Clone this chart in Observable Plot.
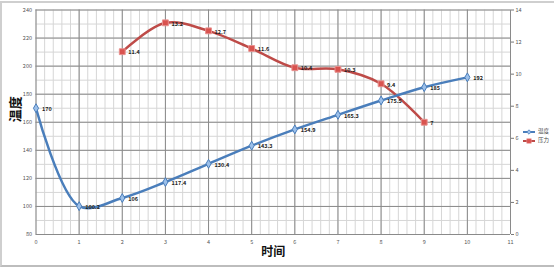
<!DOCTYPE html>
<html>
<head>
<meta charset="utf-8">
<script src="https://cdn.jsdelivr.net/npm/d3@7"></script>
<script src="https://cdn.jsdelivr.net/npm/@observablehq/plot@0.6"></script>
<style>
  html, body { margin: 0; padding: 0; background: #fff; }
  #wrap { position: relative; width: 554px; height: 270px; overflow: hidden; font-family: "Noto Sans CJK SC", "DejaVu Sans", sans-serif; }
  #frame { position: absolute; left: 0px; top: 1px; width: 560px; height: 266px; border-left: 2px solid #cfcfcf; border-top: 2px solid #cfcfcf; border-bottom: 2px solid #bdbdbd; box-sizing: border-box; pointer-events: none; }
  #legend { position: absolute; left: 523px; top: 127px; font-size: 5.5px; color: #444; line-height: 9px; }
  #legend div { display: flex; align-items: center; height: 9px; }
  #legend svg { margin-right: 2px; }
</style>
</head>
<body>
<div id="wrap">
  <div id="chart"></div>
  <div id="frame"></div>
  <div id="legend"></div>
</div>
<script>
// ---- data ----
const timeX = [0, 1, 2, 3, 4, 5, 6, 7, 8, 9, 10];
const tempValues = [170, 100.2, 106, 117.4, 130.4, 143.3, 154.9, 165.3, 175.5, 185, 192];
const pressX = [2, 3, 4, 5, 6, 7, 8, 9];
const pressValues = [11.4, 13.2, 12.7, 11.6, 10.4, 10.3, 9.4, 7];
const leftTicks = [80, 100, 120, 140, 160, 180, 200, 220, 240];
const rightTicks = [0, 2, 4, 6, 8, 10, 12, 14];
const xTicks = [0, 1, 2, 3, 4, 5, 6, 7, 8, 9, 10, 11];
const seriesNames = ["温度", "压力"];
const xTitle = "时间";
const yTitle = "温度";

const blue = "#4a7ebb";
const red = "#be4b48";

// right axis (0..14) mapped onto left scale (80..240)
const toLeft = v => 80 + v * 160 / 14;

const temp = timeX.map((x, i) => ({x, y: tempValues[i], label: String(tempValues[i])}));
const press = pressX.map((x, i) => ({x, y: toLeft(pressValues[i]), label: String(pressValues[i])}));

const minorX = d3.range(0, 11.0001, 0.2).map(v => +v.toFixed(2));
const minorY = d3.range(80, 240.001, 10);

const font = '"Noto Sans CJK SC", "DejaVu Sans", sans-serif';

const chart = Plot.plot({
  width: 554,
  height: 270,
  marginLeft: 35.5,
  marginRight: 44,
  marginTop: 9.5,
  marginBottom: 36,
  style: {fontFamily: font, background: "transparent", overflow: "visible"},
  x: {domain: [0, 11]},
  y: {domain: [80, 240]},
  marks: [
    Plot.ruleX(minorX, {stroke: "#d6d6d6", strokeWidth: 1}),
    Plot.ruleY(minorY, {stroke: "#d6d6d6", strokeWidth: 1}),
    Plot.ruleX(xTicks, {stroke: "#8a8a8a", strokeWidth: 1}),
    Plot.ruleY(leftTicks, {stroke: "#8a8a8a", strokeWidth: 1}),
    Plot.axisY({ticks: leftTicks, tickSize: 0, tickPadding: 4, fontSize: 5.5, fill: "#555", label: null}),
    Plot.axisX({ticks: xTicks, tickSize: 0, tickPadding: 6, fontSize: 5.5, fill: "#555", label: null}),
    Plot.axisY({anchor: "right", ticks: rightTicks.map(toLeft), tickFormat: (d, i) => String(rightTicks[i]), tickSize: 3, tickPadding: 2, fontSize: 5.5, fill: "#555", stroke: "#777", label: null}),
    Plot.text([yTitle], {frameAnchor: "left", dx: -20, rotate: -90, fontSize: 13, fontWeight: "bold", fill: "#111"}),
    Plot.text([xTitle], {frameAnchor: "bottom", dy: 21, fontSize: 12, fontWeight: "bold", fill: "#111"}),
    Plot.line(press, {x: "x", y: "y", stroke: red, strokeWidth: 2.5, curve: "catmull-rom"}),
    Plot.dot(press, {x: "x", y: "y", symbol: "square", r: 3.3, fill: "#d9534f", stroke: "#e8908e", strokeWidth: 1}),
    Plot.line(temp, {x: "x", y: "y", stroke: blue, strokeWidth: 2.5, curve: "catmull-rom"}),
    Plot.dot(temp, {x: "x", y: "y", symbol: "diamond", r: 2.7, fill: "#9cc0ea", stroke: blue, strokeWidth: 1}),
    Plot.text(temp, {x: "x", y: "y", text: "label", dx: 6, dy: 1, textAnchor: "start", fontSize: 5.5, fontWeight: "bold", fill: "#222"}),
    Plot.text(press, {x: "x", y: "y", text: "label", dx: 6, dy: 1, textAnchor: "start", fontSize: 5.5, fontWeight: "bold", fill: "#222"})
  ]
});
document.getElementById("chart").appendChild(chart);

// legend
const legend = document.getElementById("legend");
const legendStyles = [
  {stroke: blue, fill: "#9cc0ea", shape: "diamond"},
  {stroke: red, fill: "#d9534f", shape: "square"}
];
seriesNames.forEach((name, i) => {
  const s = legendStyles[i];
  const row = document.createElement("div");
  const marker = s.shape === "diamond"
    ? `<path d="M6,1.8 L8.2,4 L6,6.2 L3.8,4 Z" fill="${s.fill}" stroke="${s.stroke}" stroke-width="0.8"/>`
    : `<rect x="3.8" y="1.8" width="4.4" height="4.4" fill="${s.fill}" stroke="#e8908e" stroke-width="0.6"/>`;
  row.innerHTML = `<svg width="13" height="8"><line x1="0" y1="4" x2="12" y2="4" stroke="${s.stroke}" stroke-width="2"/>${marker}</svg><span>${name}</span>`;
  legend.appendChild(row);
});
</script>
</body>
</html>
